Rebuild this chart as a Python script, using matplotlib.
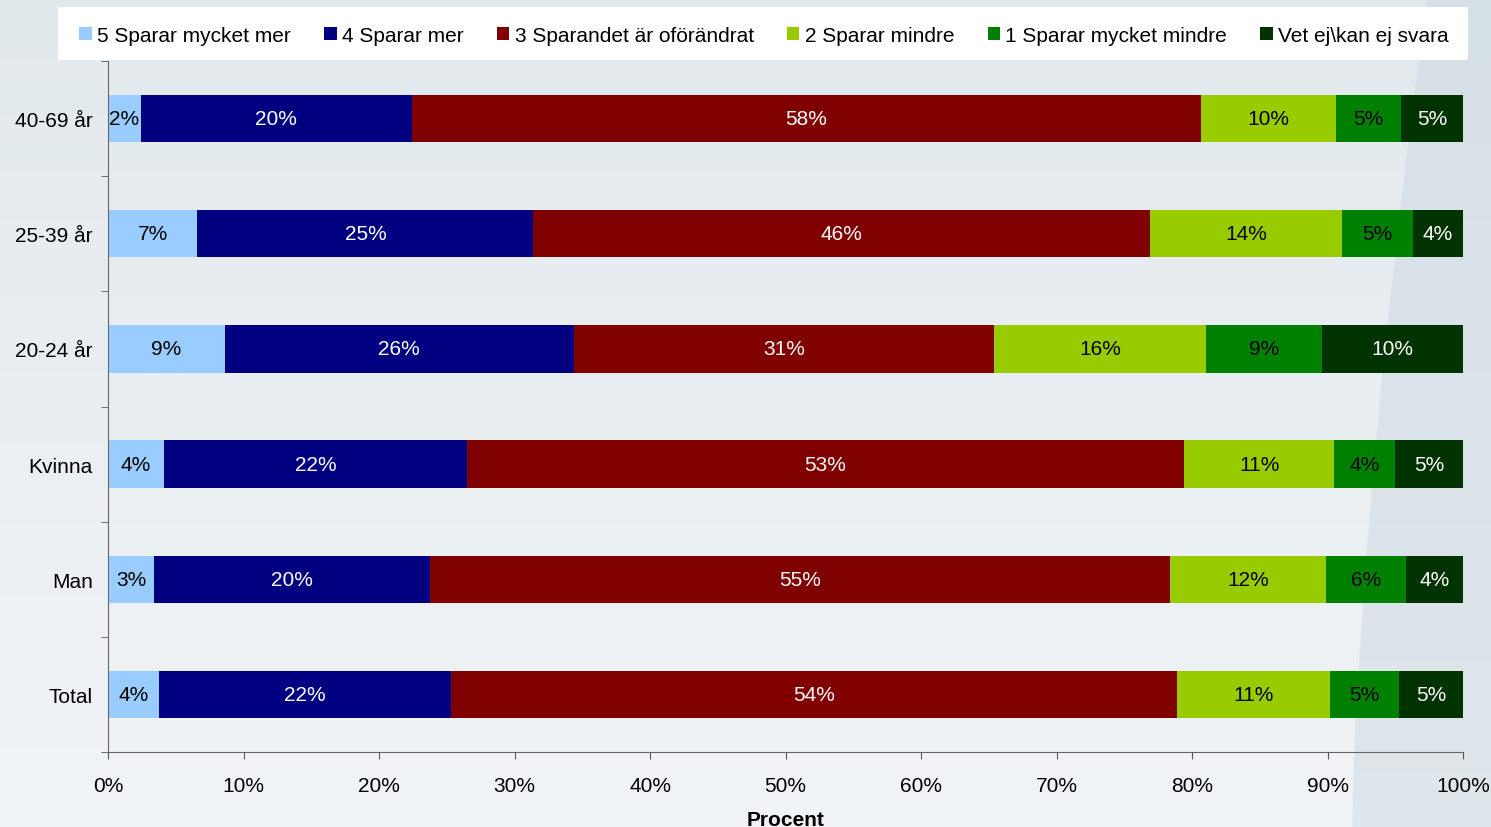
import numpy as np
import matplotlib
matplotlib.use('Agg')
from matplotlib import pyplot as plt
from matplotlib.patches import Polygon, Rectangle

plt.rcParams['font.family'] = ['Liberation Sans', 'DejaVu Sans']

categories = ['40-69 år', '25-39 år', '20-24 år', 'Kvinna', 'Man', 'Total']
series_names = ['5 Sparar mycket mer', '4 Sparar mer', '3 Sparandet är oförändrat',
                '2 Sparar mindre', '1 Sparar mycket mindre', 'Vet ej\\kan ej svara']
v5 = [2.4, 6.6, 8.6, 4.1, 3.4, 3.8]
v4 = [20.0, 24.8, 25.8, 22.4, 20.4, 21.5]
v3 = [58.3, 45.5, 31.0, 52.9, 54.6, 53.6]
v2 = [9.9, 14.2, 15.6, 11.1, 11.5, 11.3]
v1 = [4.8, 5.2, 8.6, 4.5, 5.9, 5.1]
vet = [4.6, 3.7, 10.4, 5.0, 4.2, 4.7]
colors = ['#99CCFF', '#000080', '#800000', '#99CC00', '#008000', '#003300']
text_colors = ['black', 'white', 'white', 'black', 'black', 'white']

fs = 15

fig = plt.figure(figsize=(14.91, 8.28), dpi=100)

# background gradient + swoosh
bg = fig.add_axes([0, 0, 1, 1], zorder=-10)
grad = np.linspace(0, 1, 256).reshape(-1, 1)
top = np.array([0.886, 0.914, 0.929])
bot = np.array([0.945, 0.957, 0.965])
img = top[None, None, :] * (1 - grad[:, :, None]) + bot[None, None, :] * grad[:, :, None]
bg.imshow(img, aspect='auto', extent=[0, 1, 0, 1], origin='upper')
yy = np.linspace(0, 1, 50)
xs = 0.907 + 0.05 * yy ** 1.5
pts = [(1, 0)] + list(zip(xs, yy)) + [(1, 1)]
bg.add_patch(Polygon(pts, closed=True, color='#C9D6E0', alpha=0.45, lw=0))
# legend box
bg.add_patch(Rectangle((58 / 1491, 1 - 61 / 828), 1410 / 1491, 53 / 828, color='white', lw=0))
bg.set_xlim(0, 1)
bg.set_ylim(0, 1)
bg.axis('off')

ax = fig.add_axes([108 / 1491, 1 - 753 / 828, (1463 - 108) / 1491, (753 - 62) / 828])
ax.patch.set_alpha(0)

data = [v5, v4, v3, v2, v1, vet]
y = np.arange(len(categories))[::-1]
left = np.zeros(len(categories))
for vals, name, c, tc in zip(data, series_names, colors, text_colors):
    vals = np.array(vals)
    ax.barh(y, vals, left=left, height=0.41, color=c, label=name)
    for yi, l, v in zip(y, left, vals):
        ax.text(l + v / 2, yi, f'{round(v):.0f}%', ha='center', va='center',
                color=tc, fontsize=fs)
    left = left + vals

ax.set_xlim(0, 100)
ax.set_ylim(-0.5, len(categories) - 0.5)
ax.set_xticks(np.arange(0, 101, 10))
ax.set_xticklabels([f'{t}%' for t in range(0, 101, 10)], fontsize=fs)
ax.set_yticks(y)
ax.set_yticklabels(categories, fontsize=fs)
ax.set_yticks(np.arange(-0.5, len(categories), 1), minor=True)
ax.tick_params(axis='y', which='major', length=0, pad=11)
ax.tick_params(axis='y', which='minor', length=5, color='#555555')
ax.tick_params(axis='x', length=5, color='#555555', pad=12)
for s in ['top', 'right']:
    ax.spines[s].set_visible(False)
ax.spines['left'].set_color('#666666')
ax.spines['bottom'].set_color('#666666')
ax.set_xlabel('Procent', fontsize=fs, fontweight='bold', labelpad=11)

leg = ax.legend(loc='center', bbox_to_anchor=(764 / 1491, 1 - 36 / 828),
                bbox_transform=fig.transFigure, ncol=6, frameon=False,
                fontsize=fs, handlelength=0.6, handleheight=0.6, handletextpad=0.25,
                borderaxespad=0, columnspacing=1.6)

fig.savefig('out.png', dpi=100)
